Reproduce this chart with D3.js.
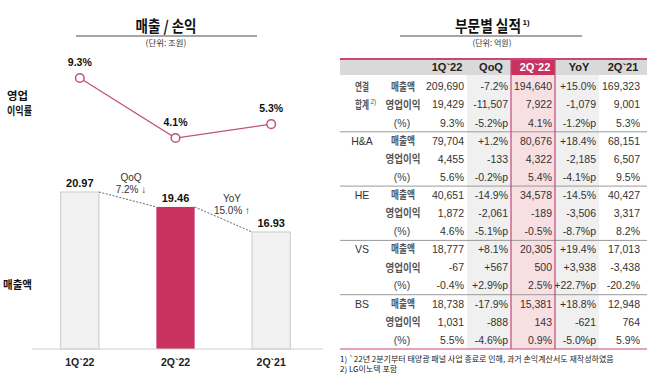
<!DOCTYPE html>
<html><head><meta charset="utf-8">
<script src="https://cdn.jsdelivr.net/npm/d3@7"></script>
<style>
body{margin:0;background:#fff;}
svg{display:block;}
text{font-family:"Liberation Sans Narrow","Liberation Sans","Noto Sans CJK KR",sans-serif;}
.kr{font-family:"Noto Sans CJK KR",sans-serif;}
</style></head>
<body><svg id="c" width="647" height="379"></svg>
<script>
// ---- data ----
const periods = ["1Q`22", "2Q`22", "2Q`21"];
const sales = [20.97, 19.46, 16.93];
const margin = [9.3, 4.1, 5.3];
const salesLabels = ["20.97", "19.46", "16.93"];
const marginLabels = ["9.3%", "4.1%", "5.3%"];
const qoqText = ["QoQ", "7.2% ↓"];
const yoyText = ["YoY", "15.0% ↑"];

const tableCols = ["1Q`22", "QoQ", "2Q`22", "YoY", "2Q`21"];
const segments = ["연결", "H&A", "HE", "VS", "BS"];
const rowLabels = ["매출액", "영업이익", "(%)"];
const valConsol = [["209,690","-7.2%","194,640","+15.0%","169,323"],["19,429","-11,507","7,922","-1,079","9,001"],["9.3%","-5.2%p","4.1%","-1.2%p","5.3%"]];
const valHA = [["79,704","+1.2%","80,676","+18.4%","68,151"],["4,455","-133","4,322","-2,185","6,507"],["5.6%","-0.2%p","5.4%","-4.1%p","9.5%"]];
const valHE = [["40,651","-14.9%","34,578","-14.5%","40,427"],["1,872","-2,061","-189","-3,506","3,317"],["4.6%","-5.1%p","-0.5%","-8.7%p","8.2%"]];
const valVS = [["18,777","+8.1%","20,305","+19.4%","17,013"],["-67","+567","500","+3,938","-3,438"],["-0.4%","+2.9%p","2.5%","+22.7%p","-20.2%"]];
const valBS = [["18,738","-17.9%","15,381","+18.8%","12,948"],["1,031","-888","143","-621","764"],["5.5%","-4.6%p","0.9%","-5.0%p","5.9%"]];
const footnotes = ["1) `22년 2분기부터 태양광 패널 사업 종료로 인해, 과거 손익계산서도 재작성하였음", "2) LG이노텍 포함"];

const PINK = "#c8325f", LINE = "#c2507e";
const svg = d3.select("#c");

// Korean text, horizontally condensed to a target width via a scale transform
function kr(xp, yp, txt, size, weight, len, anchor) {
  const t = svg.append("text").attr("class","kr").attr("x",0).attr("y",0)
    .attr("text-anchor", anchor || "middle").attr("font-size",size).attr("font-weight",weight).attr("fill","#111").text(txt);
  let s = 1;
  if (len) { const n = t.node().getComputedTextLength(); if (n > 0) s = len / n; }
  t.attr("transform", `translate(${xp},${yp}) scale(${s},1)`);
  return t;
}

// ---- left chart ----
kr(166, 32, "매출 / 손익", 15.5, "bold", 61);
svg.append("line").attr("x1",76).attr("x2",257).attr("y1",36).attr("y2",36).attr("stroke","#888").attr("stroke-width",1.5);
kr(166, 46, "(단위: 조원)", 8.5, "normal", 41).attr("fill","#333");

kr(17.5, 100, "영업", 11, "bold", 21);
kr(19.5, 115, "이익률", 11, "bold", 25);
kr(17.5, 289, "매출액", 11, "bold", 29);

const x = d3.scaleBand().domain(periods).range([32, 319]).paddingInner(0.6).paddingOuter(0.3);
const yBar = d3.scaleLinear().domain([5.11, 20.97]).range([349, 192]);
const yLine = d3.scaleLinear().domain([4.1, 9.3]).range([138, 78]);

// bars
svg.selectAll("rect.bar").data(periods).join("rect").attr("class","bar")
  .attr("x", d => x(d)).attr("width", x.bandwidth())
  .attr("y", (d,i) => yBar(sales[i])).attr("height", (d,i) => 349 - yBar(sales[i]))
  .attr("fill", (d,i) => i === 1 ? PINK : "#f2f2f2")
  .attr("stroke", (d,i) => i === 1 ? "none" : "#c9c9c9").attr("stroke-width",1);

// baseline axis
const xAxis = d3.axisBottom(x).tickSize(0).tickPadding(10);
const gx = svg.append("g").attr("transform","translate(0,349)").call(xAxis);
gx.select(".domain").attr("d","M32,0H323").attr("stroke","#d0d0d0");
gx.selectAll("text").attr("font-size",10.5).attr("font-weight","bold").attr("fill","#222")
  .attr("font-family","'Liberation Sans',sans-serif");

// bar labels
svg.selectAll("text.bl").data(periods).join("text").attr("class","bl")
  .attr("x", d => x(d) + x.bandwidth()/2).attr("y", (d,i) => yBar(sales[i]) - 5)
  .attr("text-anchor","middle").attr("font-size",11).attr("font-weight","bold").attr("fill","#111")
  .attr("font-family","'Liberation Sans',sans-serif")
  .text((d,i) => salesLabels[i]);

// dashed connectors
for (let i = 0; i < 2; i++) {
  svg.append("line")
    .attr("x1", x(periods[i]) + x.bandwidth()).attr("y1", yBar(sales[i]))
    .attr("x2", x(periods[i+1])).attr("y2", yBar(sales[i+1]))
    .attr("stroke","#555").attr("stroke-width",0.9).attr("stroke-dasharray","2,1.5");
}
// QoQ / YoY labels
[[qoqText, 131, 181], [yoyText, 232, 202]].forEach(([t, cxp, cyp]) => {
  t.forEach((s, j) => svg.append("text").attr("x", cxp).attr("y", cyp + j*12).attr("text-anchor","middle")
    .attr("font-size",10).attr("fill","#333").text(s));
});

// margin line
const line = d3.line().x((d,i) => x(periods[i]) + x.bandwidth()/2).y(d => yLine(d));
svg.append("path").datum(margin).attr("d", line).attr("fill","none").attr("stroke",LINE).attr("stroke-width",1.2);
svg.selectAll("circle.pt").data(margin).join("circle").attr("class","pt")
  .attr("cx",(d,i) => x(periods[i]) + x.bandwidth()/2).attr("cy", d => yLine(d)).attr("r",4.3)
  .attr("fill","#fff").attr("stroke",LINE).attr("stroke-width",1.5);
svg.selectAll("text.ml").data(margin).join("text").attr("class","ml")
  .attr("x",(d,i) => x(periods[i]) + x.bandwidth()/2).attr("y", d => yLine(d) - 12)
  .attr("text-anchor","middle").attr("font-size",10.5).attr("font-weight","bold").attr("fill","#111")
  .attr("font-family","'Liberation Sans',sans-serif")
  .text((d,i) => marginLabels[i]);

// ---- right table ----
kr(455, 32, "부문별 실적", 15.5, "bold", 66, "start");
svg.append("text").attr("x",522.5).attr("y",25).attr("font-size",8).attr("font-weight","bold")
  .attr("font-family","'Liberation Sans',sans-serif").attr("fill","#111").text("1)");
svg.append("line").attr("x1",400).attr("x2",582).attr("y1",36).attr("y2",36).attr("stroke","#888").attr("stroke-width",1.5);
kr(492, 46, "(단위: 억원)", 8.5, "normal", 39).attr("fill","#333");

const colX = d3.scaleBand().domain(tableCols).range([423, 643]);
const allVals = [valConsol, valHA, valHE, valVS, valBS];
const rowIdx = d3.range(15);
const ry = d3.scaleBand().domain(rowIdx).range([77.5, 349]);
const tTop = 59, hdrB = 75, tBot = 349;

// header band
svg.append("rect").attr("x",340).attr("y",tTop).attr("width",307).attr("height",hdrB-tTop).attr("fill","#d9d9d9");
// column shading
["QoQ","YoY"].forEach(c => svg.append("rect").attr("x",colX(c)).attr("y",hdrB).attr("width",colX.bandwidth()).attr("height",tBot-hdrB).attr("fill","#f0f0f0"));
svg.append("rect").attr("x",colX("2Q`22")).attr("y",hdrB).attr("width",colX.bandwidth()).attr("height",tBot-hdrB).attr("fill","#f7dfe2");
svg.append("rect").attr("x",colX("2Q`22")).attr("y",tTop).attr("width",colX.bandwidth()).attr("height",hdrB-tTop).attr("fill",PINK);
// group separators
[3,6,9,12].forEach(r => svg.append("line").attr("x1",340).attr("x2",647).attr("y1",ry(r)).attr("y2",ry(r)).attr("stroke","#9a9a9a").attr("stroke-width",1));
// pink borders
svg.append("line").attr("x1",340).attr("x2",647).attr("y1",tTop).attr("y2",tTop).attr("stroke","#c8467a").attr("stroke-width",2);
svg.append("line").attr("x1",340).attr("x2",647).attr("y1",tBot).attr("y2",tBot).attr("stroke","#c8467a").attr("stroke-width",1.2);
[colX("2Q`22"), colX("2Q`22") + colX.bandwidth()].forEach(xx => svg.append("line").attr("x1",xx).attr("x2",xx).attr("y1",tTop).attr("y2",tBot).attr("stroke","#c8467a").attr("stroke-width",1.2));

// header text
svg.selectAll("text.hd").data(tableCols).join("text").attr("class","hd")
  .attr("x", d => colX(d) + colX.bandwidth()/2 + 2).attr("y", (tTop+hdrB)/2).attr("dy","0.36em")
  .attr("text-anchor","middle").attr("font-size",11).attr("font-weight","bold")
  .attr("font-family","'Liberation Sans',sans-serif")
  .attr("fill", d => d === "2Q`22" ? "#fff" : "#222").text(d => d);

// segment labels
segments.forEach((s, g) => {
  const yy = ry(g*3) + ry.bandwidth()/2;
  if (g === 0) {
    kr(362, yy, s, 11, "bold", 14).attr("dy","0.36em").attr("fill","#555");
  } else {
    svg.append("text").attr("x",362).attr("y",yy).attr("dy","0.36em").attr("text-anchor","middle")
      .attr("font-size",10.5).attr("fill","#333").attr("font-family","'Liberation Sans',sans-serif").text(s);
  }
});
kr(355, ry(1) + ry.bandwidth()/2, "합계", 11, "bold", 14, "start").attr("dy","0.36em").attr("fill","#555");
svg.append("text").attr("x",370.5).attr("y", ry(1) + ry.bandwidth()/2 - 1).attr("font-size",6.5)
  .attr("font-family","'Liberation Sans',sans-serif").attr("fill","#555").text("2)");

// row labels & values
const rowLen = [24, 35, null];
rowIdx.forEach(r => {
  const g = Math.floor(r/3), k = r % 3;
  const yy = ry(r) + ry.bandwidth()/2;
  if (k < 2) {
    kr(403, yy, rowLabels[k], 11, "bold", rowLen[k]).attr("dy","0.36em").attr("fill","#555");
  } else {
    svg.append("text").attr("x",402).attr("y",yy).attr("dy","0.36em").attr("text-anchor","middle")
      .attr("font-size",10.5).attr("fill","#444").text(rowLabels[k]);
  }
  tableCols.forEach((c, j) => {
    svg.append("text").attr("x", colX(c) + colX.bandwidth() - 3).attr("y", yy).attr("dy","0.36em")
      .attr("text-anchor","end").attr("font-size",10.5).attr("fill","#333").text(allVals[g][k][j]);
  });
});

// footnotes
footnotes.forEach((f, i) => svg.append("text").attr("class","kr").attr("x",340).attr("y",362 + i*10)
  .attr("font-size",8).attr("fill","#222").text(f));
</script></body></html>
